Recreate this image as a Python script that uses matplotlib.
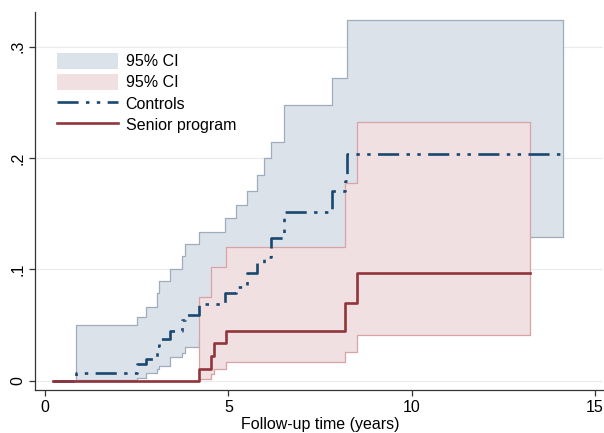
import numpy as np
import matplotlib.pyplot as plt
from matplotlib.patches import Patch
from matplotlib.lines import Line2D

plt.rcParams['font.family'] = ['Liberation Sans', 'DejaVu Sans']

# Controls: cumulative incidence and 95% CI (step function)
t_ctrl = [0.22, 0.84, 2.50, 2.76, 3.05, 3.12, 3.42, 3.75, 3.82, 4.19, 4.92, 5.21,
          5.51, 5.78, 5.98, 6.17, 6.51, 7.83, 8.19, 8.24, 14.13]
est_ctrl = [0, 0.0075, 0.015, 0.020, 0.031, 0.038, 0.045, 0.055, 0.059, 0.069, 0.0786,
            0.0846, 0.0965, 0.1055, 0.1115, 0.128, 0.152, 0.170, 0.179, 0.204, 0.204]
lo_ctrl = [0, 0.0005, 0.0024, 0.0069, 0.011, 0.0135, 0.0218, 0.0248, 0.0307, 0.037,
           0.043, 0.047, 0.055, 0.061, 0.065, 0.077, 0.095, 0.108, 0.114, 0.129, 0.129]
hi_ctrl = [0, 0.050, 0.0577, 0.0668, 0.079, 0.090, 0.1006, 0.112, 0.123, 0.134, 0.146,
           0.158, 0.170, 0.185, 0.1997, 0.2146, 0.2475, 0.272, 0.272, 0.324, 0.324]

# Senior program
t_sen = [0.22, 4.19, 4.54, 4.60, 4.93, 8.19, 8.52, 13.23]
est_sen = [0, 0.0105, 0.022, 0.034, 0.045, 0.070, 0.097, 0.097]
lo_sen = [0, 0.002, 0.006, 0.011, 0.017, 0.026, 0.041, 0.041]
hi_sen = [0, 0.0756, 0.1025, 0.1025, 0.120, 0.178, 0.2325, 0.2325]

navy = '#1a476f'
maroon = '#90353b'
blue_fill = '#dce2ea'
blue_edge = '#9eacbb'
pink_fill = '#f1e0e1'
pink_edge = '#d9a2a6'

fig = plt.figure(figsize=(6.04, 4.33), dpi=100)
ax = fig.add_axes([35 / 604, 1 - 390 / 433, 568 / 604, 378 / 433])

# CI bands
ax.fill_between(t_ctrl, lo_ctrl, hi_ctrl, step='post', color=blue_fill, lw=0, zorder=1)
ax.step(t_ctrl, hi_ctrl, where='post', color=blue_edge, lw=0.9, zorder=1.1)
ax.step(t_ctrl, lo_ctrl, where='post', color=blue_edge, lw=0.9, zorder=1.1)
ax.vlines(t_ctrl[-1], lo_ctrl[-1], hi_ctrl[-1], color=blue_edge, lw=0.9, zorder=1.1)

ax.fill_between(t_sen, lo_sen, hi_sen, step='post', color=pink_fill, lw=0, zorder=2)
ax.step(t_sen, hi_sen, where='post', color=pink_edge, lw=0.9, zorder=2.1)
ax.step(t_sen, lo_sen, where='post', color=pink_edge, lw=0.9, zorder=2.1)
ax.vlines(t_sen[-1], lo_sen[-1], hi_sen[-1], color=pink_edge, lw=0.9, zorder=2.1)

dashdot = (0, (8, 2.8, 1.3, 2.8, 1.3, 2.8))
ax.step(t_ctrl, est_ctrl, where='post', color=navy, lw=1.9, ls=dashdot, zorder=3)
ax.step(t_sen, est_sen, where='post', color=maroon, lw=1.9, zorder=4)

ax.set_xlim(-0.273, 15.22)
ax.set_ylim(-0.0081, 0.331)
ax.set_xticks([0, 5, 10, 15])
ax.set_yticks([0, 0.1, 0.2, 0.3])
ax.set_yticklabels(['0', '.1', '.2', '.3'], rotation=90, va='center')
ax.grid(axis='y', color='#ebebeb', lw=0.8, zorder=0)
ax.set_axisbelow(True)
for s in ['top', 'right']:
    ax.spines[s].set_visible(False)
for s in ['left', 'bottom']:
    ax.spines[s].set_color('#333333')
    ax.spines[s].set_linewidth(0.9)
ax.tick_params(direction='out', length=4, width=0.9, color='#333333',
               labelsize=11.5, pad=3)
ax.set_xlabel('Follow-up time (years)', fontsize=11.5)
ax.xaxis.set_label_coords(0.502, -0.071)

handles = [Patch(facecolor=blue_fill, edgecolor='none'),
           Patch(facecolor=pink_fill, edgecolor='none'),
           Line2D([], [], color=navy, lw=1.9, ls=dashdot),
           Line2D([], [], color=maroon, lw=1.9)]
labels = ['95% CI', '95% CI', 'Controls', 'Senior program']
ax.legend(handles, labels, loc='upper left', bbox_to_anchor=(57 / 604, 1 - 53 / 433),
          bbox_transform=fig.transFigure, frameon=False, fontsize=11.5,
          handlelength=3.8, handleheight=1.15, handletextpad=0.5,
          labelspacing=0.3, borderpad=0, borderaxespad=0)

fig.savefig('out.png', dpi=100)
